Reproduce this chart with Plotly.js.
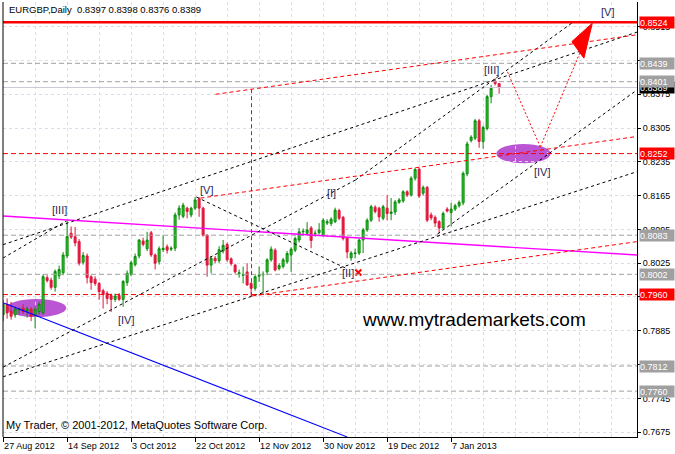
<!DOCTYPE html>
<html><head><meta charset="utf-8">
<script src="https://cdn.plot.ly/plotly-3.0.1.min.js"></script>
<style>html,body{margin:0;padding:0;background:#fff}#c{width:675px;height:454px}</style>
</head><body><div id="c"></div>
<script>
// ---- data (bar index, OHLC) ----
const openP = [.7918,.7940,.7925,.7918,.7928,.7932,.7925,.7930,.7918,.7925,.7922,.7995,.7990,.7975,.7999,.8005,.8040,.8087,.8080,.8070,.8027,.8040,.7997,.7992,.7983,.7968,.7963,.7958,.7950,.7958,.7950,.7985,.8002,.8022,.8040,.8071,.8055,.8088,.8042,.8028,.8053,.8059,.8054,.8056,.8125,.8122,.8139,.8125,.8139,.8158,.8139,.8083,.8021,.8035,.8030,.8050,.8064,.8034,.8021,.8003,.8000,.8007,.7983,.7973,.7998,.8001,.8007,.8032,.8052,.8014,.8018,.8028,.8042,.8052,.8073,.8090,.8087,.8098,.8086,.8088,.8083,.8108,.8107,.8111,.8134,.8120,.8078,.8036,.8045,.8046,.8073,.8094,.8114,.8141,.8139,.8118,.8139,.8128,.8131,.8151,.8154,.8173,.8166,.8201,.8220,.8170,.8182,.8125,.8120,.8111,.8098,.8137,.8130,.8137,.8144,.8150,.8210,.8279,.8284,.8320,.8277,.8304,.8370,.8402,.8397];
const highP = [.7948,.7952,.7945,.7935,.7933,.7940,.7935,.7934,.7935,.7945,.8002,.8000,.7995,.8012,.8020,.8048,.8113,.8101,.8100,.8075,.8048,.8045,.8000,.7998,.7986,.7972,.7967,.7962,.7962,.7963,.7990,.8010,.8030,.8045,.8075,.8078,.8090,.8092,.8045,.8060,.8083,.8064,.8060,.8130,.8145,.8150,.8142,.8142,.8162,.8162,.8142,.8085,.8040,.8040,.8060,.8073,.8068,.8037,.8024,.8012,.8018,.8025,.7986,.8000,.8018,.8008,.8035,.8060,.8056,.8025,.8036,.8050,.8058,.8080,.8098,.8097,.8110,.8102,.8093,.8108,.8118,.8116,.8120,.8140,.8138,.8123,.8080,.8050,.8055,.8076,.8098,.8118,.8146,.8145,.8142,.8146,.8166,.8160,.8156,.8160,.8176,.8176,.8205,.8222,.8223,.8186,.8185,.8130,.8124,.8114,.8132,.8141,.8150,.8148,.8155,.8215,.8277,.8290,.8324,.8324,.8310,.8374,.8394,.8408,.8398];
const lowP  = [.7905,.7910,.7908,.7912,.7918,.7920,.7912,.7905,.7890,.7918,.7918,.7985,.7970,.7966,.7992,.8000,.8035,.8075,.8060,.8020,.8022,.7983,.7970,.7978,.7949,.7931,.7940,.7924,.7945,.7947,.7935,.7978,.7998,.8018,.8035,.8060,.8050,.8038,.8012,.8022,.8048,.8045,.8050,.8050,.8115,.8118,.8118,.8120,.8135,.8121,.8080,.7997,.8004,.8025,.8025,.8045,.8028,.8020,.8003,.7995,.7983,.7978,.7955,.7968,.7986,.7962,.8000,.8028,.8008,.8010,.8014,.8024,.8007,.8048,.8068,.8082,.8083,.8056,.8080,.8085,.8080,.8104,.8102,.8108,.8114,.8072,.8035,.8030,.8035,.8042,.8046,.8090,.8110,.8128,.8111,.8114,.8114,.8114,.8125,.8148,.8150,.8162,.8163,.8196,.8160,.8165,.8110,.8114,.8100,.8087,.8094,.8130,.8101,.8133,.8140,.8145,.8205,.8275,.8280,.8264,.8262,.8300,.8356,.8393,.8376];
const closeP= [.7940,.7922,.7915,.7930,.7931,.7925,.7930,.7915,.7930,.7940,.7997,.7989,.7975,.8008,.8012,.8042,.8080,.8079,.8067,.8025,.8041,.7995,.7985,.7983,.7966,.7960,.7952,.7950,.7957,.7950,.7987,.8004,.8026,.8039,.8073,.8064,.8073,.8042,.8025,.8055,.8056,.8052,.8056,.8125,.8139,.8145,.8132,.8139,.8156,.8139,.8083,.8021,.8035,.8030,.8053,.8062,.8032,.8024,.8007,.8005,.8001,.7980,.7973,.7997,.8000,.8002,.8032,.8054,.8011,.8020,.8032,.8045,.8054,.8076,.8090,.8091,.8094,.8072,.8087,.8094,.8114,.8111,.8116,.8135,.8118,.8076,.8048,.8046,.8046,.8073,.8094,.8114,.8142,.8132,.8121,.8142,.8128,.8131,.8152,.8156,.8173,.8166,.8201,.8219,.8164,.8182,.8114,.8119,.8108,.8098,.8128,.8133,.8137,.8144,.8151,.8211,.8272,.8286,.8320,.8277,.8306,.8370,.8387,.8397,.8389];

const dateTickLabels = ['27 Aug 2012','14 Sep 2012','3 Oct 2012','22 Oct 2012','12 Nov 2012','30 Nov 2012','19 Dec 2012','7 Jan 2013'];
const dateTickBars   = [0,16,32,48,64,80,96,112];
const priceTicks = [0.8515,0.8445,0.8375,0.8305,0.8235,0.8165,0.8095,0.8025,0.7955,0.7885,0.7815,0.7745,0.7675];

// horizontal levels
const grayLevels = [0.8439,0.8401,0.8083,0.8002,0.7812,0.7760];
const redDashLevels = [0.8252,0.7960];
const redSolidLevel = 0.8524;
const bidLevel = 0.8389;

// trend lines [bar1, price1, bar2, price2]
const blackLines = [
  [0.0,0.80634,158.5,0.85037],
  [0.0,0.80357,15.8,0.81124],
  [48.3,0.81621,85.6,0.80149],
  [0.0,0.77898,158.5,0.82146],
  [0.0,0.78097,88.1,0.81973],
  [88.1,0.81973,142.6,0.85249],
  [108.6,0.80854,158.5,0.83839]
];
const redLines = [
  [53.1,0.83748,158.5,0.84981],
  [49.3,0.81598,158.5,0.82875],
  [62.1,0.79569,158.5,0.80697],
  [62.1,0.83854,62.1,0.79569]
];
const magentaLine = [0.0,0.81227,158.5,0.80419];
const blueLine = [0.15,0.79424,86.0,0.76652];
const projBars = [126.1,134.3,144.3];
const projPrices = [0.84212,0.82658,0.84627];
const arrowBars = [142.2,145.2,147.3];
const arrowPrices = [0.84840,0.84496,0.85222];
const ellipses = [[0.8,0.79507,15.8,0.79134],[123.3,0.82720,136.9,0.82319]];
const waveText = ['[III]','[IV]','[V]','[I]','[II]','[III]','[IV]','[V]'];
const waveBars = [14.1,30.95,50.95,82.1,86.1,122.1,134.95,151.0];
const wavePrices = [0.81352,0.79071,0.81756,0.81704,0.80056,0.84243,0.82129,0.85446];
const crossBar = [88.8], crossPrice = [0.80056];

// right-side price labels
const boxLevels = [0.8524,0.8439,0.8389,0.8401,0.8252,0.8083,0.8002,0.7960,0.7812,0.7760];
const boxColors = ['#FF0000','#A0A0A0','#000000','#A0A0A0','#FF0000','#A0A0A0','#A0A0A0','#FF0000','#A0A0A0','#A0A0A0'];

// ---- build ----
const bars = openP.map((_,i)=>i);
const FONT = 'Liberation Sans, Arial, sans-serif';
const shapes = [];
const X0 = -0.03, X1 = 158.47;

ellipses.forEach(e=>shapes.push({type:'circle',xref:'x',yref:'y',x0:e[0],y0:e[1],x1:e[2],y1:e[3],fillcolor:'#BA55D3',line:{width:0},layer:'below'}));
grayLevels.forEach(v=>shapes.push({type:'line',xref:'paper',yref:'y',x0:0,x1:1,y0:v,y1:v,line:{color:'#A0A0A0',width:1,dash:'5px,3px'}}));
shapes.push({type:'line',xref:'paper',yref:'y',x0:0,x1:1,y0:bidLevel,y1:bidLevel,line:{color:'#C8C8D8',width:1}});
redDashLevels.forEach(v=>shapes.push({type:'line',xref:'paper',yref:'y',x0:0,x1:1,y0:v,y1:v,line:{color:'#FF0000',width:1,dash:'5px,3px'}}));
shapes.push({type:'line',xref:'paper',yref:'y',x0:0,x1:1,y0:redSolidLevel,y1:redSolidLevel,line:{color:'#FF0000',width:2.5}});
shapes.push({type:'line',xref:'x',yref:'y',x0:magentaLine[0],y0:magentaLine[1],x1:magentaLine[2],y1:magentaLine[3],line:{color:'#FF00FF',width:1.4}});
shapes.push({type:'line',xref:'x',yref:'y',x0:blueLine[0],y0:blueLine[1],x1:blueLine[2],y1:blueLine[3],line:{color:'#0000FF',width:1.1}});
blackLines.forEach(l=>shapes.push({type:'line',xref:'x',yref:'y',x0:l[0],y0:l[1],x1:l[2],y1:l[3],line:{color:'#000000',width:1,dash:'3px,3px'}}));
redLines.forEach(l=>shapes.push({type:'line',xref:'x',yref:'y',x0:l[0],y0:l[1],x1:l[2],y1:l[3],line:{color:'#FF0000',width:1,dash:'4px,3px'}}));
for(let k=0;k<projBars.length-1;k++){
  shapes.push({type:'line',xref:'x',yref:'y',x0:projBars[k],y0:projPrices[k],x1:projBars[k+1],y1:projPrices[k+1],line:{color:'#FF0000',width:1,dash:'2px,2px'}});
}
shapes.push({type:'path',xref:'x',yref:'y',path:'M'+arrowBars.map((b,k)=>b+','+arrowPrices[k]).join(' L')+' Z',fillcolor:'#FF0000',line:{color:'#FF0000',width:1}});
shapes.push({type:'line',xref:'paper',yref:'paper',x0:0,x1:0,y0:0,y1:1,line:{color:'#000',width:1}});

const annotations = [];
waveText.forEach((t,k)=>annotations.push({xref:'x',yref:'y',x:waveBars[k],y:wavePrices[k],text:t,showarrow:false,font:{family:FONT,size:11,color:'#1E2A58'}}));
annotations.push({xref:'paper',yref:'paper',x:0.006,y:0.982,xanchor:'left',yanchor:'middle',showarrow:false,text:'EURGBP,Daily  0.8397 0.8398 0.8376 0.8389',font:{family:FONT,size:9.5,color:'#000'}});
annotations.push({xref:'paper',yref:'paper',x:0.002,y:0.028,xanchor:'left',yanchor:'middle',showarrow:false,text:'My Trader, © 2001-2012, MetaQuotes Software Corp.',font:{family:FONT,size:11,color:'#000'}});
annotations.push({xref:'paper',yref:'paper',x:0.743,y:0.269,xanchor:'center',yanchor:'middle',showarrow:false,text:'www.mytrademarkets.com',font:{family:FONT,size:19,color:'#000'}});
boxLevels.forEach((v,k)=>annotations.push({xref:'paper',yref:'y',x:1,xshift:2,y:v,xanchor:'left',yanchor:'middle',showarrow:false,text:v.toFixed(4),bgcolor:boxColors[k],width:34,height:11,borderpad:0,align:'left',font:{family:FONT,size:9,color:'#FFFFFF'}}));

const traces = [
 {type:'candlestick',x:bars,open:openP,high:highP,low:lowP,close:closeP,
  increasing:{line:{color:'#0A8A0A',width:1},fillcolor:'#22CC22'},
  decreasing:{line:{color:'#E0163C',width:1},fillcolor:'#E8193F'},
  whiskerwidth:0,hoverinfo:'skip',showlegend:false},
 {type:'scatter',mode:'markers',x:crossBar,y:crossPrice,marker:{symbol:'x-thin',size:6,line:{color:'#FF0000',width:2}},hoverinfo:'skip',showlegend:false}
];

const layout = {
  width:675,height:454,margin:{l:3,r:38,t:2,b:17,pad:0},
  paper_bgcolor:'#fff',plot_bgcolor:'#fff',showlegend:false,hovermode:false,
  xaxis:{range:[X0,X1],rangeslider:{visible:false},tickmode:'array',tickvals:dateTickBars,ticktext:dateTickLabels,
    ticks:'outside',ticklen:4,tickcolor:'#000',ticklabelposition:'outside right',
    tickfont:{family:FONT,size:9,color:'#000'},showline:true,linecolor:'#000',linewidth:1,
    showgrid:true,gridcolor:'#DCDCEE',griddash:'3px,3px',zeroline:false,
    minor:{tickmode:'linear',tick0:0,dtick:8,showgrid:true,gridcolor:'#DCDCEE',griddash:'3px,3px',ticklen:0}},
  yaxis:{range:[0.7665,0.8566],side:'right',tickmode:'array',tickvals:priceTicks,ticktext:priceTicks.map(v=>v.toFixed(4)),
    ticks:'outside',ticklen:3,tickcolor:'#000',tickfont:{family:FONT,size:9,color:'#000'},
    showline:true,linecolor:'#000',linewidth:1,showgrid:true,gridcolor:'#DCDCEE',griddash:'3px,3px',zeroline:false},
  shapes:shapes,annotations:annotations
};
Plotly.newPlot('c',traces,layout,{displayModeBar:false,staticPlot:true});
</script></body></html>
